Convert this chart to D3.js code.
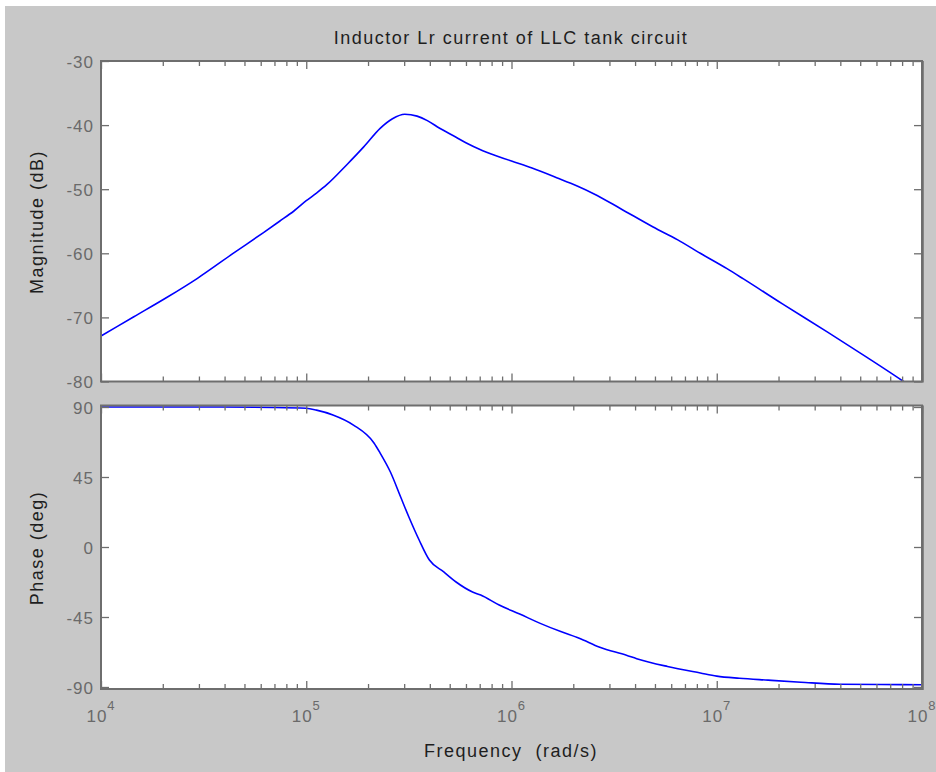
<!DOCTYPE html>
<html>
<head>
<meta charset="utf-8">
<script src="https://cdn.jsdelivr.net/npm/d3@7"></script>
<style>
  html, body { margin: 0; padding: 0; background: #ffffff; }
  svg { display: block; }
  text { font-family: "Liberation Sans", Arial, sans-serif; }
</style>
</head>
<body>
<svg id="chart" width="936" height="772"></svg>
<script>
// ---------------- data ----------------
const titleText = "Inductor Lr current of LLC tank circuit";
const magLabel = "Magnitude (dB)";
const phaseLabel = "Phase (deg)";
const freqLabel = "Frequency  (rad/s)";

const magTicks = [-80, -70, -60, -50, -40, -30];
const phaseTicks = [-90, -45, 0, 45, 90];
const decadeExps = [4, 5, 6, 7, 8];

// log10(frequency) and magnitude (dB)
const magFreqExp = [4.00,4.16,4.32,4.47,4.64,4.79,4.87,4.94,5.00,5.05,5.10,5.20,5.28,5.36,5.42,5.48,5.54,5.59,5.65,5.73,5.78,5.86,6.00,6.10,6.22,6.32,6.40,6.53,6.69,6.81,6.92,7.05,7.13,7.32,7.54,7.73,7.91,8.00];
const magDb = [-72.9,-69.9,-66.9,-63.9,-60.1,-56.8,-55.0,-53.4,-51.8,-50.6,-49.3,-46.1,-43.4,-40.5,-39.0,-38.3,-38.6,-39.3,-40.5,-41.9,-42.8,-44.0,-45.6,-46.7,-48.2,-49.5,-50.7,-53.0,-55.9,-57.9,-60.0,-62.4,-64.0,-67.9,-72.3,-76.2,-80.0,-82.0];

// log10(frequency) and phase (deg)
const phFreqExp = [4.00,4.50,4.84,5.00,5.05,5.13,5.23,5.33,5.36,5.41,5.46,5.50,5.55,5.60,5.67,5.73,5.81,5.85,5.94,6.04,6.14,6.24,6.33,6.43,6.56,6.61,6.76,6.92,7.00,7.11,7.25,7.41,7.60,7.80,8.00];
const phDeg = [90,90,89.7,89.2,88.0,84.9,78.4,66.9,60.4,48.2,32.1,19.3,4.5,-8.4,-16.0,-22.5,-28.9,-30.9,-37.3,-43.1,-49.1,-54.4,-58.7,-64.5,-69.6,-71.8,-76.8,-81.0,-83.0,-84.4,-85.6,-86.9,-88.2,-88.4,-88.6];

// ---------------- layout ----------------
const svg = d3.select("#chart");
const W = 936, H = 772;
const left = 101, right = 922;
const top1 = 61, bot1 = 381.5;
const top2 = 405.5, bot2 = 689;

const axisColor = "#6e6e6e";
const tickLabelColor = "#6a6a6a";
const labelColor = "#1e1e1e";
const lineColor = "#0000ff";

// background
svg.append("rect").attr("x", 0).attr("y", 0).attr("width", W).attr("height", H).attr("fill", "#ffffff");
svg.append("rect").attr("x", 5).attr("y", 6).attr("width", W - 5).attr("height", H - 6).attr("fill", "#c8c8c8");

const x = d3.scaleLog().domain([1e4, 1e8]).range([left, right]);
const yMag = d3.scaleLinear().domain([-80, -30]).range([bot1, top1]);
const yPh = d3.scaleLinear().domain([-90, 90]).range([687, 407]);

const magData = magFreqExp.map((e, i) => ({ f: Math.pow(10, e), v: magDb[i] }));
const phData = phFreqExp.map((e, i) => ({ f: Math.pow(10, e), v: phDeg[i] }));

const majorX = decadeExps.map(e => Math.pow(10, e));
const minorX = [];
for (let e = 4; e < 8; e++) for (let k = 2; k <= 9; k++) minorX.push(k * Math.pow(10, e));

function panel(yTop, yBot, yScale, yTicks, data, clipId) {
  svg.append("rect").attr("x", left).attr("y", yTop).attr("width", right - left).attr("height", yBot - yTop)
    .attr("fill", "#ffffff");

  svg.append("clipPath").attr("id", clipId).append("rect")
    .attr("x", left).attr("y", yTop).attr("width", right - left).attr("height", yBot - yTop);

  const line = d3.line().x(d => x(d.f)).y(d => yScale(d.v)).curve(d3.curveMonotoneX);
  svg.append("path").datum(data).attr("d", line)
    .attr("fill", "none").attr("stroke", lineColor).attr("stroke-width", 1.6)
    .attr("clip-path", `url(#${clipId})`);

  const styleAxis = g => {
    g.select(".domain").remove();
    g.selectAll("line").attr("stroke", axisColor).attr("stroke-width", 1.3);
  };
  svg.append("g").attr("transform", `translate(0,${yBot})`)
    .call(d3.axisBottom(x).tickValues(majorX).tickSize(-8).tickFormat(""))
    .call(styleAxis);
  svg.append("g").attr("transform", `translate(0,${yBot})`)
    .call(d3.axisBottom(x).tickValues(minorX).tickSize(-5).tickFormat(""))
    .call(styleAxis);
  svg.append("g").attr("transform", `translate(0,${yTop})`)
    .call(d3.axisTop(x).tickValues(majorX).tickSize(-8).tickFormat(""))
    .call(styleAxis);
  svg.append("g").attr("transform", `translate(0,${yTop})`)
    .call(d3.axisTop(x).tickValues(minorX).tickSize(-5).tickFormat(""))
    .call(styleAxis);

  const gl = svg.append("g").attr("transform", `translate(${left},0)`)
    .call(d3.axisLeft(yScale).tickValues(yTicks).tickSize(-8).tickPadding(7).tickFormat(d => String(d)))
    .call(styleAxis);
  gl.selectAll("text").attr("fill", tickLabelColor).style("font-size", "17px")
    .style("letter-spacing", "1px").attr("dy", "0.36em");
  svg.append("g").attr("transform", `translate(${right},0)`)
    .call(d3.axisRight(yScale).tickValues(yTicks).tickSize(-8).tickFormat(""))
    .call(styleAxis);

  svg.append("rect").attr("x", left).attr("y", yTop).attr("width", right - left).attr("height", yBot - yTop)
    .attr("fill", "none").attr("stroke", axisColor).attr("stroke-width", 2);
  // slightly heavier right edge, as in the reference
  svg.append("line").attr("x1", right + 1).attr("x2", right + 1).attr("y1", yTop).attr("y2", yBot + 1)
    .attr("stroke", axisColor).attr("stroke-width", 1.5);
}

panel(top1, bot1, yMag, magTicks, magData, "clipMag");
panel(top2, bot2, yPh, phaseTicks, phData, "clipPh");

// x tick labels (10^n)
const xl = svg.append("g");
decadeExps.forEach(e => {
  const t = xl.append("text").attr("x", x(Math.pow(10, e))).attr("y", 722)
    .attr("text-anchor", "middle").attr("fill", tickLabelColor)
    .style("font-size", "17px").style("letter-spacing", "1px");
  t.append("tspan").text("10");
  t.append("tspan").attr("dy", "-12").style("font-size", "13px").text(String(e));
});

// title & axis labels
svg.append("text").attr("x", 511).attr("y", 44).attr("text-anchor", "middle")
  .attr("fill", labelColor).style("font-size", "18px").style("letter-spacing", "1.5px")
  .text(titleText);

svg.append("text").attr("transform", "translate(43,222) rotate(-90)").attr("text-anchor", "middle")
  .attr("fill", labelColor).style("font-size", "18px").style("letter-spacing", "1.5px")
  .text(magLabel);

svg.append("text").attr("transform", "translate(43,548) rotate(-90)").attr("text-anchor", "middle")
  .attr("fill", labelColor).style("font-size", "18px").style("letter-spacing", "1.5px")
  .text(phaseLabel);

svg.append("text").attr("x", 511).attr("y", 757).attr("text-anchor", "middle")
  .attr("fill", labelColor).style("font-size", "18px").style("letter-spacing", "1.5px")
  .style("white-space", "pre")
  .text(freqLabel);
</script>
</body>
</html>
